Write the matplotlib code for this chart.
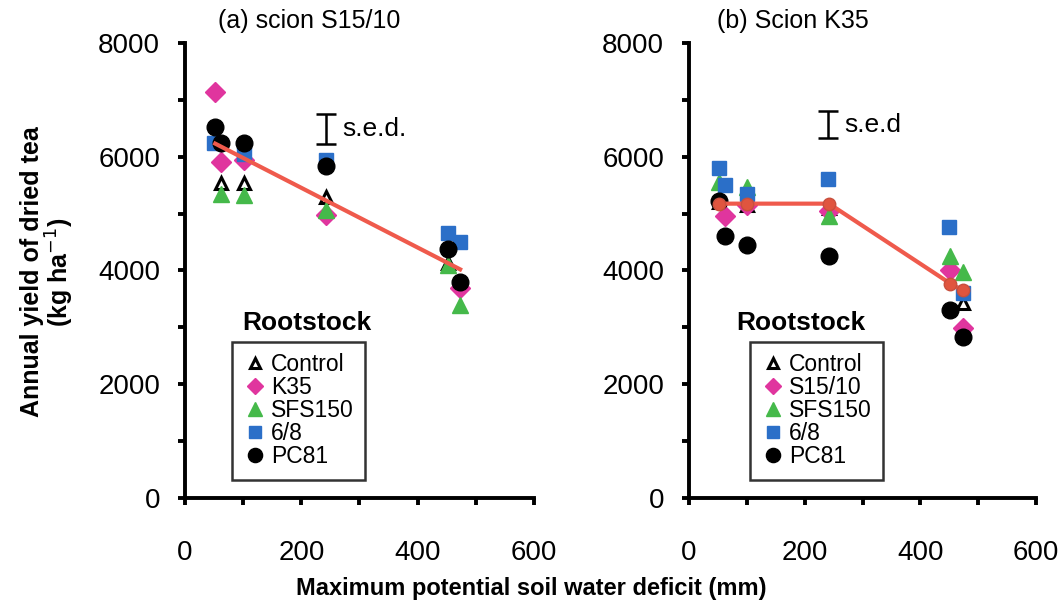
import matplotlib
matplotlib.use("Agg")
from matplotlib import pyplot as plt
from matplotlib.ticker import MultipleLocator

plt.rcParams['font.family'] = ['Liberation Sans', 'DejaVu Sans']

# ---- data ----
# (a) scion S15/10
ctrl_a_x = [62, 101, 242, 452]
ctrl_a_y = [5530, 5530, 5300, 4130]
k35_a_x = [52, 62, 101, 242, 473]
k35_a_y = [7130, 5900, 5950, 4980, 3690]
sfs_a_x = [62, 101, 242, 452, 473]
sfs_a_y = [5350, 5330, 5070, 4100, 3390]
b68_a_x = [50, 101, 242, 452, 473]
b68_a_y = [6250, 6050, 5950, 4660, 4500]
pc81_a_x = [52, 62, 101, 242, 452, 473]
pc81_a_y = [6530, 6250, 6250, 5830, 4380, 3800]
fit_a_x = [52, 473]
fit_a_y = [6230, 4020]
sed_a = (242, 6230, 6760)

# (b) scion K35
ctrl_b_x = [52, 101, 242, 473]
ctrl_b_y = [5200, 5150, 5100, 3420]
s1510_b_x = [62, 101, 242, 452, 473]
s1510_b_y = [4960, 5150, 5050, 4000, 2980]
sfs_b_x = [52, 101, 242, 452, 473]
sfs_b_y = [5550, 5460, 4950, 4260, 3970]
b68_b_x = [52, 62, 101, 240, 450, 473]
b68_b_y = [5810, 5510, 5350, 5610, 4760, 3600]
pc81_b_x = [52, 62, 101, 242, 452, 473]
pc81_b_y = [5230, 4610, 4440, 4260, 3300, 2830]
fit_b_x = [52, 101, 242, 452, 473]
fit_b_y = [5175, 5175, 5175, 3770, 3650]
sed_b = (240, 6330, 6800)

PINK = "#e0359e"
GREEN = "#45b94a"
BLUE = "#2b6fc8"
RED = "#ef5a4c"

fig = plt.figure(figsize=(10.62, 6.07), dpi=100)
axa = fig.add_axes([0.1742, 0.1796, 0.3286, 0.7496])
axb = fig.add_axes([0.6488, 0.1796, 0.3267, 0.7496])


def draw(ax, series, fit_x, fit_y, sed, sed_txt, title, title_x, leg_x, fit_markers):
    for x, y, lab, kw in series:
        ax.plot(x, y, linestyle='none', label=lab, **kw)
    if fit_markers:
        ax.plot(fit_x, fit_y, color=RED, lw=3, marker='o', ms=9,
                mfc="#e0553f", mec="#c8503e", zorder=5)
    else:
        ax.plot(fit_x, fit_y, color=RED, lw=3, zorder=5)
    sx, s0, s1 = sed
    ax.errorbar([sx], [(s0 + s1) / 2], yerr=[(s1 - s0) / 2], color='black',
                capsize=7, elinewidth=1.8, capthick=1.8, fmt='none')
    ax.text(sx + 28, (s0 + s1) / 2, sed_txt, fontsize=19, va='center')
    ax.text(title_x, 1.048, title, transform=ax.transAxes, fontsize=18,
            ha='center', va='center')
    ax.text(0.35 if leg_x < 0.15 else 0.323, 0.385, "Rootstock", transform=ax.transAxes,
            fontsize=19, fontweight='bold', ha='center', va='center')
    leg = ax.legend(loc='lower left', bbox_to_anchor=(leg_x, 0.04),
                    fontsize=16.5, frameon=True, fancybox=False, markerscale=0.85,
                    handlelength=1.0, handletextpad=0.2, labelspacing=0.0,
                    borderpad=0.5, borderaxespad=0)
    leg.get_frame().set_edgecolor('black')
    leg.get_frame().set_linewidth(1.8)

    ax.set_xlim(0, 600)
    ax.set_ylim(0, 8000)
    ax.xaxis.set_major_locator(MultipleLocator(200))
    ax.xaxis.set_minor_locator(MultipleLocator(100))
    ax.yaxis.set_major_locator(MultipleLocator(2000))
    ax.yaxis.set_minor_locator(MultipleLocator(1000))
    for s in ['top', 'right']:
        ax.spines[s].set_visible(False)
    for s in ['left', 'bottom']:
        ax.spines[s].set_linewidth(2.8)
    ax.tick_params(which='both', direction='out', length=5, width=2.8)
    ax.tick_params(axis='x', which='major', pad=25, labelsize=20)
    ax.tick_params(axis='y', which='major', pad=13, labelsize=20)


open_tri = dict(marker='^', ms=9, mfc='white', mec='black', mew=2.2)
diam = dict(marker='D', ms=10, color=PINK)
tri = dict(marker='^', ms=12, color=GREEN)
sq = dict(marker='s', ms=10, color=BLUE)
circ = dict(marker='o', ms=12, color='black')

series_a = [
    (ctrl_a_x, ctrl_a_y, "Control", open_tri),
    (k35_a_x, k35_a_y, "K35", diam),
    (sfs_a_x, sfs_a_y, "SFS150", tri),
    (b68_a_x, b68_a_y, "6/8", sq),
    (pc81_a_x, pc81_a_y, "PC81", circ),
]
series_b = [
    (ctrl_b_x, ctrl_b_y, "Control", open_tri),
    (s1510_b_x, s1510_b_y, "S15/10", diam),
    (sfs_b_x, sfs_b_y, "SFS150", tri),
    (b68_b_x, b68_b_y, "6/8", sq),
    (pc81_b_x, pc81_b_y, "PC81", circ),
]

draw(axa, series_a, fit_a_x, fit_a_y, sed_a, "s.e.d.", "(a) scion S15/10", 0.355, 0.135, False)
draw(axb, series_b, fit_b_x, fit_b_y, sed_b, "s.e.d", "(b) Scion K35", 0.30, 0.176, True)

fig.text(0.030, 0.552, "Annual yield of dried tea", rotation=90,
         fontsize=18, fontweight='bold', ha='center', va='center')
fig.text(0.056, 0.552, "(kg ha$^{-1}$)", rotation=90,
         fontsize=18, fontweight='bold', ha='center', va='center')
fig.text(0.5, 0.03, "Maximum potential soil water deficit (mm)", fontsize=17,
         fontweight='bold', ha='center', va='center')

fig.savefig("out.png", dpi=100)
